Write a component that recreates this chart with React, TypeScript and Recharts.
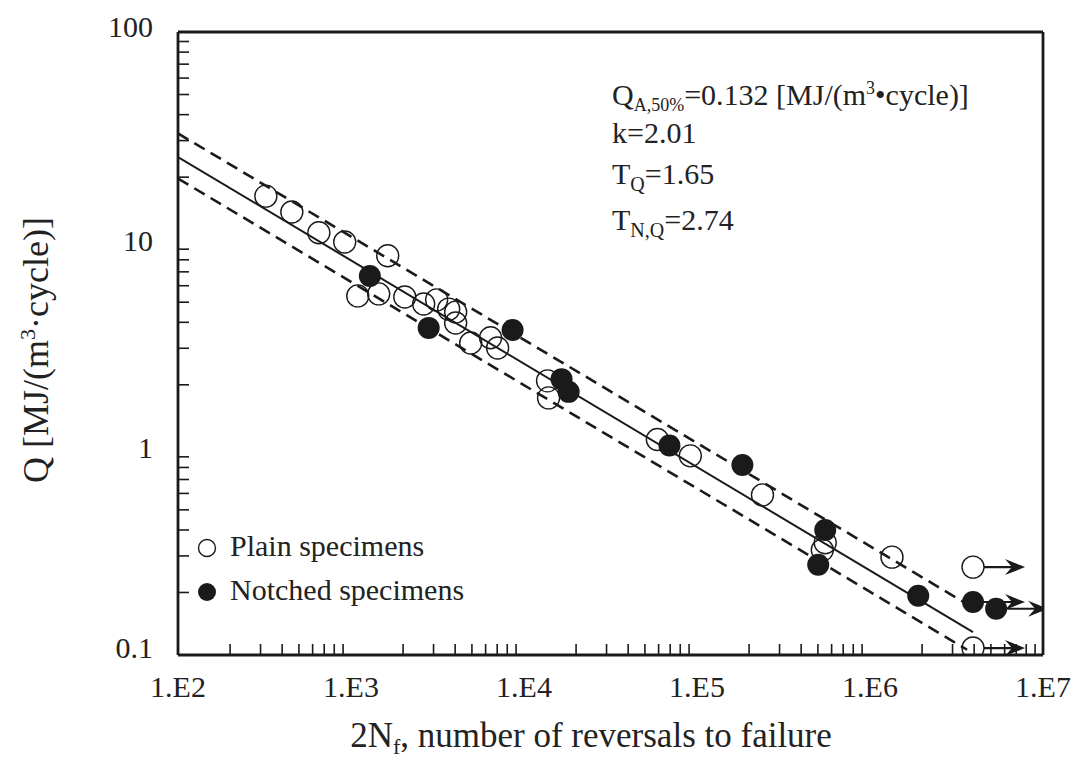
import React from "react";
import { ScatterChart, Scatter, XAxis, YAxis, ReferenceLine } from "recharts";

// tick values and labels
const xMajorTicks = [1e2, 1e3, 1e4, 1e5, 1e6, 1e7];
const xTickLabels = ["1.E2", "1.E3", "1.E4", "1.E5", "1.E6", "1.E7"];
const yMajorTicks = [0.1, 1, 10, 100];
const yTickLabels = ["0.1", "1", "10", "100"];
const minorSteps = [2, 3, 4, 5, 6, 7, 8, 9];

// plain specimens (open circles)
const plainN = [322, 455, 652, 920, 1630, 1094, 1446, 2046, 2631, 3126, 3671, 4027, 4027, 4920, 6410, 7040, 13680, 13870, 59000, 91500, 239000, 551000, 530000, 1340000];
const plainQ = [16.2, 13.6, 10.8, 9.75, 8.36, 5.36, 5.48, 5.3, 4.9, 5.13, 4.63, 4.48, 3.97, 3.18, 3.37, 3.01, 2.09, 1.73, 1.09, 0.91, 0.59, 0.347, 0.32, 0.296];
const plainRunoutN = [3940000, 3940000];
const plainRunoutQ = [0.265, 0.108];

// notched specimens (filled circles)
const notchedN = [1285, 2812, 8590, 16480, 18120, 69300, 183000, 551000, 502000, 1900000];
const notchedQ = [6.68, 3.76, 3.67, 2.13, 1.85, 1.02, 0.822, 0.4, 0.272, 0.193];
const notchedRunoutN = [3940000, 5360000];
const notchedRunoutQ = [0.18, 0.167];

// fitted curve and scatter band
const fitN = [100, 3940000];
const fitQ = [25.0, 0.129];
const upperN = [100, 3550000];
const upperQ = [32.5, 0.178];
const lowerN = [100, 3640000];
const lowerQ = [19.7, 0.106];

const zip = (n: number[], q: number[]) => n.map((v, i) => ({ n: v, q: q[i] }));

const xTicks = [...xMajorTicks, ...xMajorTicks.slice(0, -1).flatMap((d) => minorSteps.map((m) => d * m))];
const yTicks = [...yMajorTicks, ...yMajorTicks.slice(0, -1).flatMap((d) => minorSteps.map((m) => d * m))];

const SERIF = "'Liberation Serif', Tinos, 'Times New Roman', Times, 'Noto Serif', 'DejaVu Serif', serif";
const INK = "#1a1a1a";

const XTick = (props: any) => {
  const { x, y, payload } = props;
  const i = xMajorTicks.indexOf(payload.value);
  if (i < 0) {
    return <line x1={x} y1={y} x2={x} y2={y - 11} stroke={INK} strokeWidth={1.6} />;
  }
  return (
    <text x={x} y={y + 42} textAnchor="middle" fontFamily={SERIF} fontSize={30} fill="#222">
      {xTickLabels[i]}
    </text>
  );
};

const YTick = (props: any) => {
  const { x, y, payload } = props;
  const i = yMajorTicks.indexOf(payload.value);
  if (i < 0) {
    return <line x1={x} y1={y} x2={x + 11} y2={y} stroke={INK} strokeWidth={1.6} />;
  }
  const dy = i === 0 ? 3 : i === 3 ? 5 : 11;
  return (
    <text x={x - 25} y={y + dy} textAnchor="end" fontFamily={SERIF} fontSize={30} fill="#222">
      {yTickLabels[i]}
    </text>
  );
};

const OpenDot = (p: any) => <circle cx={p.cx} cy={p.cy} r={11} fill="none" stroke={INK} strokeWidth={1.4} />;
const FilledDot = (p: any) => <circle cx={p.cx} cy={p.cy} r={11} fill={INK} />;

const Arrow = ({ cx, cy }: { cx: number; cy: number }) => {
  const tip = cx + 52;
  return (
    <g>
      <line x1={cx + 11} y1={cy} x2={tip - 8} y2={cy} stroke={INK} strokeWidth={2.2} />
      <polygon points={`${tip},${cy} ${tip - 20},${cy - 8} ${tip - 13},${cy} ${tip - 20},${cy + 8}`} fill={INK} />
    </g>
  );
};

const OpenRunout = (p: any) => (
  <g>
    <Arrow cx={p.cx} cy={p.cy} />
    <OpenDot {...p} />
  </g>
);
const FilledRunout = (p: any) => (
  <g>
    <Arrow cx={p.cx} cy={p.cy} />
    <FilledDot {...p} />
  </g>
);
const NoDot = () => <g />;

const subStyle = (size: number, drop: number) => ({ fontSize: size, verticalAlign: "baseline", position: "relative" as const, top: drop });

export default function App() {
  return (
    <div style={{ position: "absolute", left: 0, top: 0, width: 1083, height: 764, background: "#fff", fontFamily: SERIF, color: "#222" }}>
      <ScatterChart width={1083} height={764} margin={{ top: 32, right: 40, bottom: 49, left: 108 }}>
        <XAxis
          type="number"
          dataKey="n"
          scale="log"
          domain={[100, 1e7]}
          ticks={xTicks}
          interval={0}
          allowDataOverflow
          height={60}
          tickSize={0}
          tickMargin={0}
          tickLine={false}
          axisLine={{ stroke: INK, strokeWidth: 2.8 }}
          tick={<XTick />}
        />
        <YAxis
          type="number"
          dataKey="q"
          scale="log"
          domain={[0.1, 100]}
          ticks={yTicks}
          interval={0}
          allowDataOverflow
          width={70}
          tickSize={0}
          tickMargin={0}
          tickLine={false}
          axisLine={{ stroke: INK, strokeWidth: 2.8 }}
          tick={<YTick />}
        />
        <ReferenceLine y={100} stroke={INK} strokeWidth={2.8} />
        <ReferenceLine x={1e7} stroke={INK} strokeWidth={2.8} />
        <Scatter data={zip(fitN, fitQ)} line={{ stroke: INK, strokeWidth: 2 }} shape={NoDot} isAnimationActive={false} />
        <Scatter data={zip(upperN, upperQ)} line={{ stroke: INK, strokeWidth: 2.6, strokeDasharray: "12 7" }} shape={NoDot} isAnimationActive={false} />
        <Scatter data={zip(lowerN, lowerQ)} line={{ stroke: INK, strokeWidth: 2.6, strokeDasharray: "12 7" }} shape={NoDot} isAnimationActive={false} />
        <Scatter data={zip(plainN, plainQ)} shape={OpenDot} isAnimationActive={false} />
        <Scatter data={zip(notchedN, notchedQ)} shape={FilledDot} isAnimationActive={false} />
        <Scatter data={zip(plainRunoutN, plainRunoutQ)} shape={OpenRunout} isAnimationActive={false} />
        <Scatter data={zip(notchedRunoutN, notchedRunoutQ)} shape={FilledRunout} isAnimationActive={false} />
      </ScatterChart>

      {/* fit parameters */}
      <div style={{ position: "absolute", left: 612, top: 0, fontSize: 30, lineHeight: "30px", whiteSpace: "nowrap" }}>
        <div style={{ position: "absolute", top: 80 }}>
          Q<span style={subStyle(18, 6)}>A,50%</span>=0.132 [MJ/(m<span style={subStyle(18, -11)}>3</span>•cycle)]
        </div>
        <div style={{ position: "absolute", top: 118 }}>k=2.01</div>
        <div style={{ position: "absolute", top: 159 }}>
          T<span style={subStyle(20, 7)}>Q</span>=1.65
        </div>
        <div style={{ position: "absolute", top: 205 }}>
          T<span style={subStyle(20, 7)}>N,Q</span>=2.74
        </div>
      </div>

      {/* legend */}
      <svg style={{ position: "absolute", left: 0, top: 0 }} width={260} height={620}>
        <circle cx={207} cy={548} r={8.5} fill="none" stroke={INK} strokeWidth={1.4} />
        <circle cx={207} cy={592} r={9} fill={INK} />
      </svg>
      <div style={{ position: "absolute", left: 230, top: 531, fontSize: 30, lineHeight: "30px", whiteSpace: "nowrap" }}>Plain specimens</div>
      <div style={{ position: "absolute", left: 230, top: 575, fontSize: 30, lineHeight: "30px", whiteSpace: "nowrap" }}>Notched specimens</div>

      {/* axis titles */}
      <div style={{ position: "absolute", left: 0, width: 1182, top: 718, textAlign: "center", fontSize: 35, lineHeight: "35px", whiteSpace: "nowrap" }}>
        2N<span style={subStyle(22, 7)}>f</span>, number of reversals to failure
      </div>
      <div
        style={{
          position: "absolute",
          left: 38,
          top: 350,
          transform: "translate(-50%, -50%) rotate(-90deg)",
          fontSize: 36,
          lineHeight: "36px",
          whiteSpace: "nowrap",
        }}
      >
        Q [MJ/(m<span style={subStyle(22, -13)}>3</span>·cycle)]
      </div>
    </div>
  );
}
